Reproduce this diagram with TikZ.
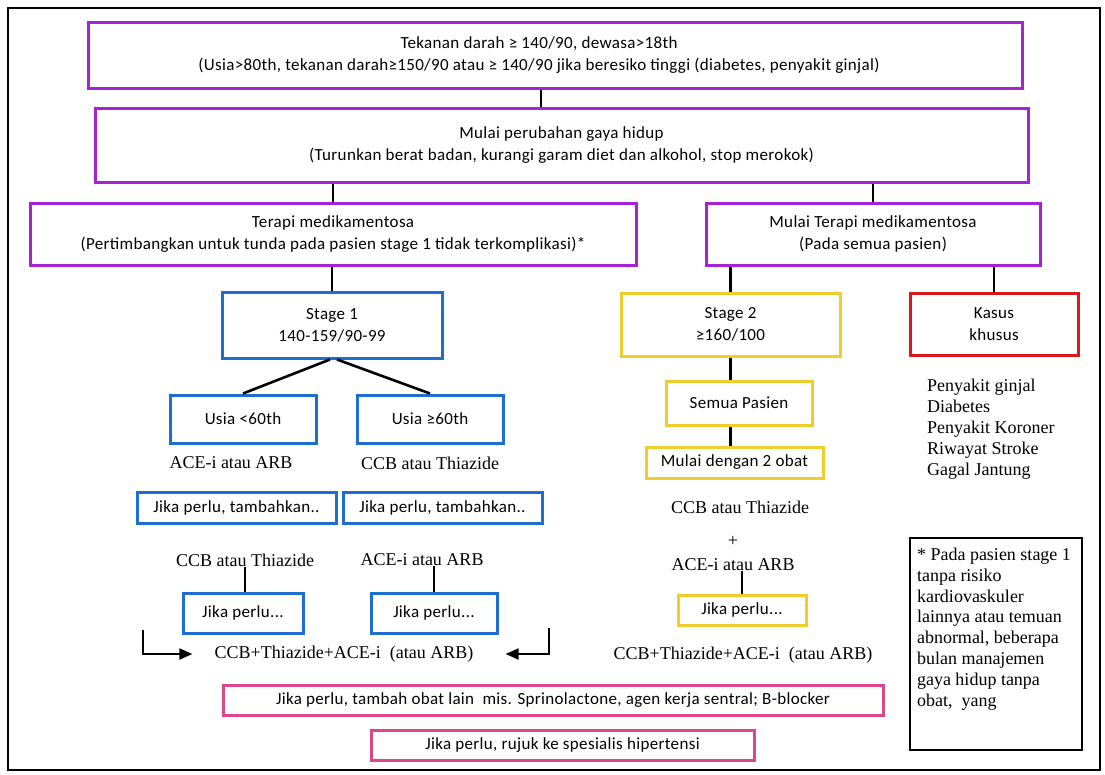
\documentclass[tikz,border=0pt]{standalone}
\usepackage{fontspec}
\setmainfont{Liberation Serif}
\newfontfamily\sansbox[LetterSpace=2]{Carlito}
\usetikzlibrary{shapes,arrows.meta,positioning}
\definecolor{purp}{RGB}{165,35,210}
\definecolor{blu}{RGB}{30,110,210}
\definecolor{yel}{RGB}{240,205,45}
\definecolor{rd}{RGB}{215,25,30}
\definecolor{pnk}{RGB}{220,70,140}
\def\boxfont{\sansbox\fontsize{17}{22}\selectfont}

\begin{document}
\begin{tikzpicture}[x=1pt,y=-1pt,% one unit = one pixel, y grows downwards
			every node/.style={
				align=center,  		% "\\" breaks lines
				inner sep=0pt
			},
			every edge/.style={draw,line width=2.6pt},
			box/.style={rectangle,draw,line width=3pt,font=\boxfont},
			txt/.style={font=\fontsize{18}{21}\selectfont},
			arr/.style={draw,line width=1.8pt,-{Triangle[length=13pt,width=11pt]}}
		]
		\useasboundingbox (0,0) rectangle (1105,774);
		\draw[line width=2pt] (8,8) rectangle (1100,770); % frame
		% top
		\node[box,draw=purp,minimum width=934,minimum height=66](R1) at (555,55){Tekanan darah ≥ 140/90, dewasa>18th\hspace*{32pt}\\(Usia>80th, tekanan darah≥150/90 atau ≥ 140/90 jika beresiko tinggi (diabetes, penyakit ginjal)\hspace*{32pt}};
		\node[box,draw=purp,minimum width=933,minimum height=74](R2) at (561.5,145){Mulai perubahan gaya hidup\\(Turunkan berat badan, kurangi garam diet dan alkohol, stop merokok)};
		\node[box,draw=purp,minimum width=606,minimum height=62](R3) at (333,234){Terapi medikamentosa\\(Pertimbangkan untuk tunda pada pasien stage 1 tidak terkomplikasi)*};
		\node[box,draw=purp,minimum width=334,minimum height=62](R4) at (873,234){Mulai Terapi medikamentosa\\(Pada semua pasien)};
		% stage 1
		\node[box,draw=blu,minimum width=220,minimum height=66](R5) at (332,325){Stage 1\\140-159/90-99};
		\node[box,draw=blu,minimum width=146,minimum height=48](R6) at (243,419){Usia <60th};
		\node[box,draw=blu,minimum width=146,minimum height=48](R7) at (430,419){Usia ≥60th};
		\node[txt](R8) at (231,463){ACE-i atau ARB};
		\node[txt](R9) at (430,463){CCB atau Thiazide};
		\node[box,draw=blu,minimum width=199,minimum height=31](R10) at (236.5,507.5){Jika perlu, tambahkan..};
		\node[box,draw=blu,minimum width=199,minimum height=31](R11) at (442.5,507.5){Jika perlu, tambahkan..};
		\node[txt](R12) at (245,560){CCB atau Thiazide};
		\node[txt](R13) at (422,560){ACE-i atau ARB};
		\node[box,draw=blu,minimum width=120,minimum height=40](R14) at (243,613){Jika perlu...};
		\node[box,draw=blu,minimum width=126,minimum height=40](R15) at (434,613){Jika perlu...};
		\node[txt](R16) at (344,654){CCB+Thiazide+ACE-i~ (atau ARB)};
		% stage 2 and special cases
		\node[box,draw=yel,minimum width=219,minimum height=63](R17) at (730.5,324.5){Stage 2\\≥160/100};
		\node[box,draw=rd,minimum width=168,minimum height=62](R18) at (994,324){Kasus\\khusus};
		\node[box,draw=yel,minimum width=146,minimum height=44](R19) at (739,403){Semua Pasien};
		\node[box,draw=yel,minimum width=177,minimum height=31](R20) at (734.5,462.5){\raisebox{-3pt}{Mulai dengan 2 obat}};
		\node[txt](R21) at (740,507){CCB atau Thiazide};
		\node[txt](R22) at (733,541){+};
		\node[txt](R23) at (733,565){ACE-i atau ARB};
		\node[box,draw=yel,minimum width=128,minimum height=30](R24) at (742,610){\raisebox{-2pt}{Jika perlu...}};
		\node[txt](R25) at (743,655){CCB+Thiazide+ACE-i~ (atau ARB)};
		\node[txt,align=left,anchor=north west](R26) at (927,379){Penyakit ginjal\\Diabetes\\Penyakit Koroner\\Riwayat Stroke\\Gagal Jantung};
		\node[draw,line width=2pt,inner sep=7pt](R27) at (996,644){\parbox[c][198pt][t]{158pt}{\raggedright\fontsize{18}{20.8}\selectfont
			\vspace*{3pt}* Pada pasien stage 1\\tanpa risiko\\kardiovaskuler\\lainnya atau temuan\\abnormal, beberapa\\bulan manajemen\\gaya hidup tanpa\\obat,~ yang}};
		% bottom
		\node[box,draw=pnk,minimum width=660,minimum height=30](R28) at (553,700){\raisebox{-3pt}{Jika perlu, tambah obat lain~ mis. Sprinolactone, agen kerja sentral; B-blocker}};
		\node[box,draw=pnk,minimum width=383,minimum height=30](R29) at (562.5,745){Jika perlu, rujuk ke spesialis hipertensi};
		\path
		([xshift=-14]R1.south) edge ([xshift=-20.5]R2.north)
		(R2.south -| R3.north) edge (R3.north)
		(R2.south -| R4.north) edge (R4.north)
		(R3.south -| R5.north) edge (R5.north)
		([xshift=-2]R5.south) edge (R6.north)
		([xshift=5]R5.south) edge (R7.north)
		(R12.south) edge (R12.south |- R14.north)
		(R13.south -| R15.north) edge (R15.north)
		(R4.south -| R17.north) edge (R17.north)
		(R4.south -| R18.north) edge (R18.north)
		(R17.south) edge (R17.south |- R19.north)
		(R19.south -| R17.south) edge (R20.north -| R17.south)
		(R23.south -| R24.north) edge (R24.north)
		;
		\coordinate (A1) at (143,630);
		\coordinate (A2) at (549,628);
		\draw[arr] (A1) |- ([xshift=-22]R16.west);
		\draw[arr] (A2) |- ([xshift=32]R16.east);
	\end{tikzpicture}
\end{document}
